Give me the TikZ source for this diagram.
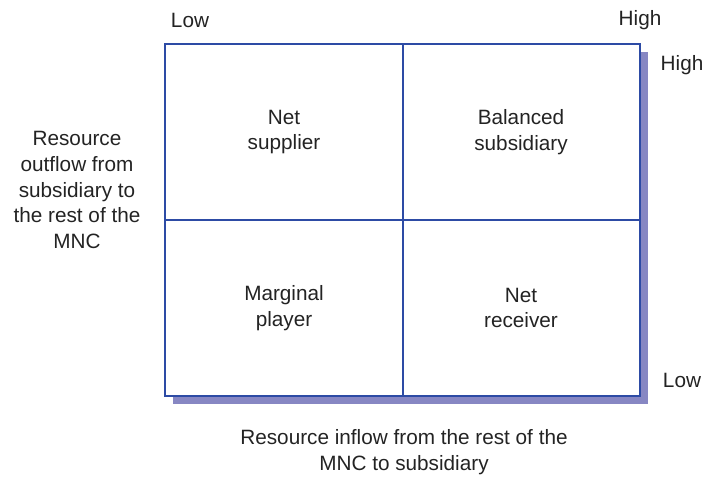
\documentclass[tikz,border=0pt]{standalone}
\usepackage{fontspec}
\setmainfont{Liberation Sans}
\usepackage{tikz}
\usetikzlibrary{shapes.geometric, arrows.meta, positioning}
\definecolor{gridblue}{RGB}{45,75,165}
\definecolor{shadowblue}{RGB}{135,135,195}
\definecolor{textgray}{RGB}{35,35,35}
\tikzstyle{label} = [text=textgray, align=center, font=\fontsize{11.8}{14.7}\selectfont, inner sep=0pt]
\tikzstyle{cell} = [label]
\tikzstyle{gridline} = [draw=gridblue, line width=1.1pt]

\begin{document}
\begin{tikzpicture}[x=0.02cm, y=-0.02cm]
		\useasboundingbox (0,0) rectangle (706,478);
		% shadow and frame
		\fill[shadowblue] (173,52) rectangle (648,404);
		\fill[white] (165,44) rectangle (640,396);
		\coordinate (nw) at (165,44);
		\coordinate (se) at (640,396);
		\coordinate (midtop) at (403,44);
		\coordinate (midbot) at (403,396);
		\coordinate (midleft) at (165,220);
		\coordinate (midright) at (640,220);
		\draw[gridline] (nw) rectangle (se);
		\draw[gridline] (midtop) -- (midbot);
		\draw[gridline] (midleft) -- (midright);
		% quadrants
		\node[cell] (supplier) at (284,132) {Net\\supplier};
		\node[cell] (balanced) at (521,132) {Balanced\\subsidiary};
		\node[cell] (marginal) at (284,308) {Marginal\\player};
		\node[cell] (receiver) at (521,308) {Net\\receiver};
		% axis labels
		\node[label] (xlow) at (190,20) {Low};
		\node[label] (xhigh) at (640,20) {High};
		\node[label] (yhigh) at (682,65) {High};
		\node[label] (ylow) at (682,380) {Low};
		\node[label] (outflow) at (77,190) {Resource\\outflow from\\subsidiary to\\the rest of the\\MNC};
		\node[label] (inflow) at (404,452) {Resource inflow from the rest of the\\MNC to subsidiary};
	\end{tikzpicture}
\end{document}
